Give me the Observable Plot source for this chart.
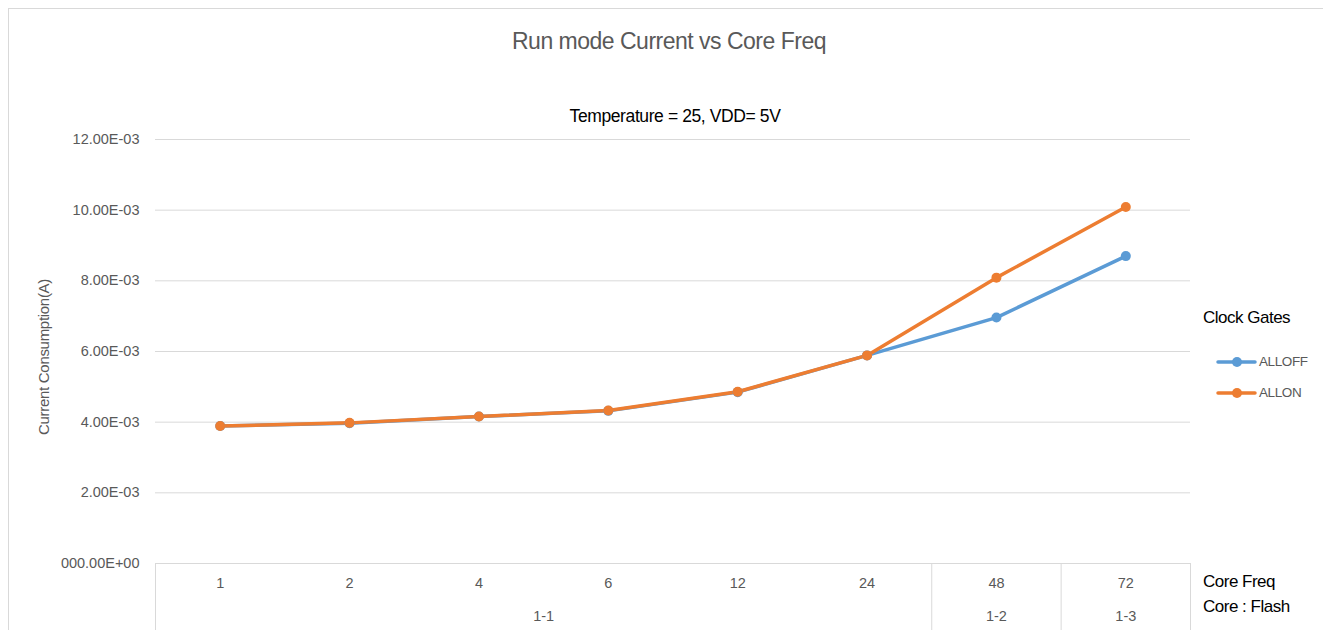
<!DOCTYPE html>
<html>
<head>
<meta charset="utf-8">
<script src="https://cdn.jsdelivr.net/npm/d3@7"></script>
<script src="https://cdn.jsdelivr.net/npm/@observablehq/plot@0.6"></script>
<style>
  html, body { margin: 0; padding: 0; background: #fff; overflow: hidden; }
  body { width: 1323px; height: 630px; position: relative; font-family: "Liberation Sans", Arial, sans-serif; }
  #frame { position: absolute; left: 8px; top: 8px; width: 1400px; height: 700px; border: 1px solid #d9d9d9; box-sizing: border-box; }
  #chart { position: absolute; left: 0; top: 0; }
  .t { position: absolute; white-space: nowrap; transform: translate(-50%, -50%); line-height: 1; }
  .l { position: absolute; white-space: nowrap; transform: translate(0, -50%); line-height: 1; }
  #legend { position: absolute; left: 1216px; top: 346px; }
  .item { display: flex; align-items: center; height: 31px; font-size: 13.5px; color: #595959; letter-spacing: -0.4px; }
  .item svg { margin-right: 2px; }
</style>
</head>
<body>
<div id="frame"></div>
<div id="chart"></div>
<div class="t" style="left:669px; top:41px; font-size:23px; color:#595959; letter-spacing:-0.5px;">Run mode Current vs Core Freq</div>
<div class="t" style="left:675px; top:117px; font-size:17.5px; color:#000; letter-spacing:-0.4px;">Temperature = 25, VDD= 5V</div>
<div class="t" style="left:43px; top:357px; font-size:15px; color:#595959; transform: translate(-50%,-50%) rotate(-90deg); letter-spacing:-0.3px;">Current Consumption(A)</div>
<div class="l" style="left:1203px; top:317px; font-size:17px; color:#000; letter-spacing:-0.5px;">Clock Gates</div>
<div class="l" style="left:1203px; top:581px; font-size:17px; color:#000; letter-spacing:-0.5px;">Core Freq</div>
<div class="l" style="left:1203px; top:606px; font-size:17px; color:#000; letter-spacing:-0.5px;">Core : Flash</div>
<div id="legend"></div>
<script>
// ---- data ----
const coreFreq = ["1", "2", "4", "6", "12", "24", "48", "72"];
const coreFlash = ["1-1", "1-1", "1-1", "1-1", "1-1", "1-1", "1-2", "1-3"];
const series = ["ALLOFF", "ALLON"];
const colors = ["#5b9bd5", "#ed7d31"];
const allOff = [3.89e-3, 3.97e-3, 4.16e-3, 4.32e-3, 4.85e-3, 5.89e-3, 6.96e-3, 8.70e-3];
const allOn  = [3.89e-3, 3.98e-3, 4.16e-3, 4.33e-3, 4.86e-3, 5.89e-3, 8.09e-3, 10.09e-3];
const yTicks = [0, 2e-3, 4e-3, 6e-3, 8e-3, 10e-3, 12e-3];
const yTickLabels = ["000.00E+00", "2.00E-03", "4.00E-03", "6.00E-03", "8.00E-03", "10.00E-03", "12.00E-03"];

// ---- derived tables ----
const data = [];
[allOff, allOn].forEach((vals, s) => vals.forEach((v, i) => data.push({i, value: v, series: series[s]})));
const idx = coreFreq.map((_, i) => i);
const groups = [];
coreFlash.forEach((g, i) => {
  const last = groups[groups.length - 1];
  if (last && last.name === g) last.end = i; else groups.push({name: g, start: i, end: i});
});
const boundaries = [-0.5, ...groups.map(g => g.end + 0.5)];
const groupCenters = groups.map(g => (g.start + g.end) / 2);

const font = "Liberation Sans, Arial, sans-serif";
const chart = Plot.plot({
  width: 1323,
  height: 630,
  marginLeft: 155,
  marginRight: 133,
  marginTop: 139,
  marginBottom: 67,
  style: {fontFamily: font, background: "transparent", overflow: "visible"},
  x: {type: "linear", domain: [-0.5, coreFreq.length - 0.5]},
  y: {domain: [0, 12e-3]},
  color: {domain: series, range: colors},
  marks: [
    Plot.gridY(yTicks, {stroke: "#d9d9d9", strokeOpacity: 1, strokeWidth: 1}),
    Plot.axisY(yTicks, {
      tickSize: 0, tickPadding: 16, label: null,
      tickFormat: d => yTickLabels[yTicks.indexOf(d)],
      fontSize: 14.5, fill: "#595959", letterSpacing: "-0.3px"
    }),
    Plot.ruleY([0], {stroke: "#d9d9d9", strokeWidth: 1}),
    Plot.axisX(boundaries, {tickSize: 70, tickFormat: () => "", stroke: "#d9d9d9", label: null}),
    Plot.axisX(idx, {
      tickSize: 0, tickPadding: 14, label: null,
      tickFormat: d => coreFreq[d], fontSize: 14.5, fill: "#595959"
    }),
    Plot.axisX(groupCenters, {
      tickSize: 0, tickPadding: 47, label: null,
      tickFormat: d => groups[groupCenters.indexOf(d)].name, fontSize: 14.5, fill: "#595959"
    }),
    Plot.line(data, {x: "i", y: "value", stroke: "series", z: "series", strokeWidth: 3.5, strokeLinejoin: "round", strokeLinecap: "round"}),
    Plot.dot(data, {x: "i", y: "value", fill: "series", r: 5, stroke: null})
  ]
});
document.getElementById("chart").appendChild(chart);

// ---- legend ----
const legend = d3.select("#legend");
series.forEach((s, k) => {
  const row = legend.append("div").attr("class", "item");
  const sv = row.append("svg").attr("width", 41).attr("height", 12);
  sv.append("line").attr("x1", 2).attr("x2", 39).attr("y1", 6).attr("y2", 6)
    .attr("stroke", colors[k]).attr("stroke-width", 3.5).attr("stroke-linecap", "round");
  sv.append("circle").attr("cx", 21).attr("cy", 6).attr("r", 5).attr("fill", colors[k]);
  row.append("span").text(s);
});
</script>
</body>
</html>
